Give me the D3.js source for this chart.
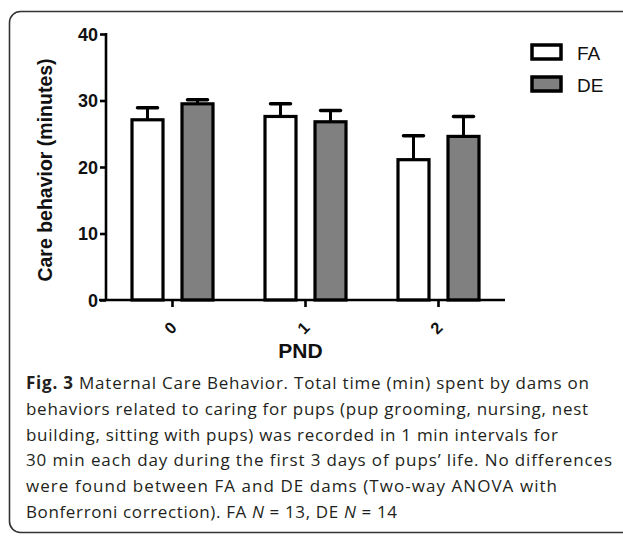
<!DOCTYPE html>
<html>
<head>
<meta charset="utf-8">
<script src="https://cdn.jsdelivr.net/npm/d3@7"></script>
<style>
  body { margin: 0; background: #fff; }
  svg { display: block; }
</style>
</head>
<body>
<svg id="chart" width="623" height="538"></svg>
<script>
  // data (minutes, mean and upper SEM)
  var days = ["0", "1", "2"];
  var groups = ["FA", "DE"];
  var fa_mean = [27.1, 27.6, 21.1];
  var fa_err = [1.8, 1.9, 3.6];
  var de_mean = [29.5, 26.8, 24.6];
  var de_err = [0.6, 1.7, 3.0];
  var y_ticks = [0, 10, 20, 30, 40];
  var caption_lines = [
    [{t: "Fig. 3", b: true}, {t: " Maternal Care Behavior. Total time (min) spent by dams on"}],
    [{t: "behaviors related to caring for pups (pup grooming, nursing, nest"}],
    [{t: "building, sitting with pups) was recorded in 1 min intervals for"}],
    [{t: "30 min each day during the first 3 days of pups\u2019 life. No differences"}],
    [{t: "were found between FA and DE dams (Two-way ANOVA with"}],
    [{t: "Bonferroni correction). FA "}, {t: "N", i: true}, {t: " = 13, DE "}, {t: "N", i: true}, {t: " = 14"}]
  ];
  var caption_widths = [563, 562, 532, 586, 531, 371];

  var fills = {FA: "#ffffff", DE: "#808080"};
  var rows = [];
  for (var i=0; i<days.length; i++) {
    rows.push({day: days[i], grp: "FA", v: fa_mean[i], e: fa_err[i]});
    rows.push({day: days[i], grp: "DE", v: de_mean[i], e: de_err[i]});
  }

  var svg = d3.select("#chart");

  // panel frame
  svg.append("rect").attr("x", 9.5).attr("y", 11.5).attr("width", 640).attr("height", 521)
    .attr("rx", 11).attr("fill", "none").attr("stroke", "#333").attr("stroke-width", 1.6);

  var x = d3.scaleBand().domain(days).range([106, 505]);
  var x1 = d3.scaleBand().domain(groups).range([x.bandwidth()/2 - 50, x.bandwidth()/2 + 50]);
  var y = d3.scaleLinear().domain([0, 40]).range([300, 34]);
  var bar_w = 31;

  var g = svg.append("g");

  // bars
  var bars = g.selectAll(".bar").data(rows).enter().append("g").attr("class", "bar")
    .attr("transform", function(d){ return "translate(" + (x(d.day) + x1(d.grp) + x1.bandwidth()/2) + ",0)"; });

  bars.append("line")
    .attr("x1", 0).attr("x2", 0)
    .attr("y1", function(d){ return y(d.v); })
    .attr("y2", function(d){ return y(d.v + d.e); })
    .attr("stroke", "#000").attr("stroke-width", 3);
  bars.append("line")
    .attr("x1", -10).attr("x2", 10)
    .attr("y1", function(d){ return y(d.v + d.e); })
    .attr("y2", function(d){ return y(d.v + d.e); })
    .attr("stroke", "#000").attr("stroke-width", 3.5).attr("stroke-linecap", "round");
  bars.append("rect")
    .attr("x", -bar_w/2).attr("width", bar_w)
    .attr("y", function(d){ return y(d.v); })
    .attr("height", function(d){ return y(0) - y(d.v); })
    .attr("fill", function(d){ return fills[d.grp]; })
    .attr("stroke", "#000").attr("stroke-width", 3.2);

  // axes
  var yAxis = svg.append("g").attr("transform", "translate(106,0)")
    .call(d3.axisLeft(y).tickValues(y_ticks).tickSize(6).tickPadding(2).tickSizeOuter(0));
  var xAxis = svg.append("g").attr("transform", "translate(0,300)")
    .call(d3.axisBottom(x).tickSize(7).tickSizeOuter(0));

  [yAxis, xAxis].forEach(function(a){
    a.select(".domain").attr("stroke", "#000").attr("stroke-width", 2.6);
    a.selectAll(".tick line").attr("stroke", "#000").attr("stroke-width", 2.6);
    a.selectAll("text").attr("fill", "#111").attr("font-family", "Liberation Sans, Arial, sans-serif")
      .attr("font-weight", "bold");
  });
  yAxis.select(".domain").attr("d", "M0," + (y(40) - 1) + "V" + y(0));
  xAxis.select(".domain").attr("d", "M" + (106 - 7) + ",0H505");
  yAxis.selectAll("text").attr("font-size", 18).attr("dy", "0.36em");
  xAxis.selectAll("text").attr("font-size", 16.5).attr("y", 0).attr("dy", null)
    .attr("text-anchor", "middle")
    .attr("transform", "translate(-1,29) rotate(-45)").attr("dominant-baseline", "middle");

  // axis titles
  svg.append("text").attr("transform", "translate(52,170) rotate(-90)")
    .attr("text-anchor", "middle").attr("font-family", "Liberation Sans, Arial, sans-serif")
    .attr("font-weight", "bold").attr("font-size", 19.5).attr("fill", "#111")
    .text("Care behavior (minutes)");
  svg.append("text").attr("x", x.range()[0] + (x.range()[1] - x.range()[0])/2 - 5).attr("y", 358)
    .attr("text-anchor", "middle").attr("font-family", "Liberation Sans, Arial, sans-serif")
    .attr("font-weight", "bold").attr("font-size", 21).attr("fill", "#111")
    .text("PND");

  // legend
  var leg = svg.append("g").attr("transform", "translate(532,45)");
  groups.forEach(function(grp, i){
    leg.append("rect").attr("x", 0).attr("y", i*32).attr("width", 29).attr("height", 14)
      .attr("fill", fills[grp]).attr("stroke", "#000").attr("stroke-width", 3.5);
    leg.append("text").attr("x", 45).attr("y", i*32 + 15)
      .attr("font-family", "Liberation Sans, Arial, sans-serif").attr("font-size", 19)
      .attr("fill", "#111").text(grp);
  });

  // caption, letter spacing tuned so each line ends where it does in the figure
  var cap = svg.append("g");
  caption_lines.forEach(function(line, i){
    var t = cap.append("text").attr("x", 26).attr("y", 389 + i*25.8)
      .attr("font-family", "Open Sans, sans-serif").attr("font-size", 17).attr("fill", "#231f20");
    var n = 0;
    line.forEach(function(p){
      n += p.t.length;
      t.append("tspan").attr("font-weight", p.b ? "bold" : null)
        .attr("font-style", p.i ? "italic" : null).text(p.t);
    });
    var w = t.node().getComputedTextLength();
    t.attr("letter-spacing", ((caption_widths[i] - w) / (n - 1)).toFixed(3));
  });
</script>
</body>
</html>
